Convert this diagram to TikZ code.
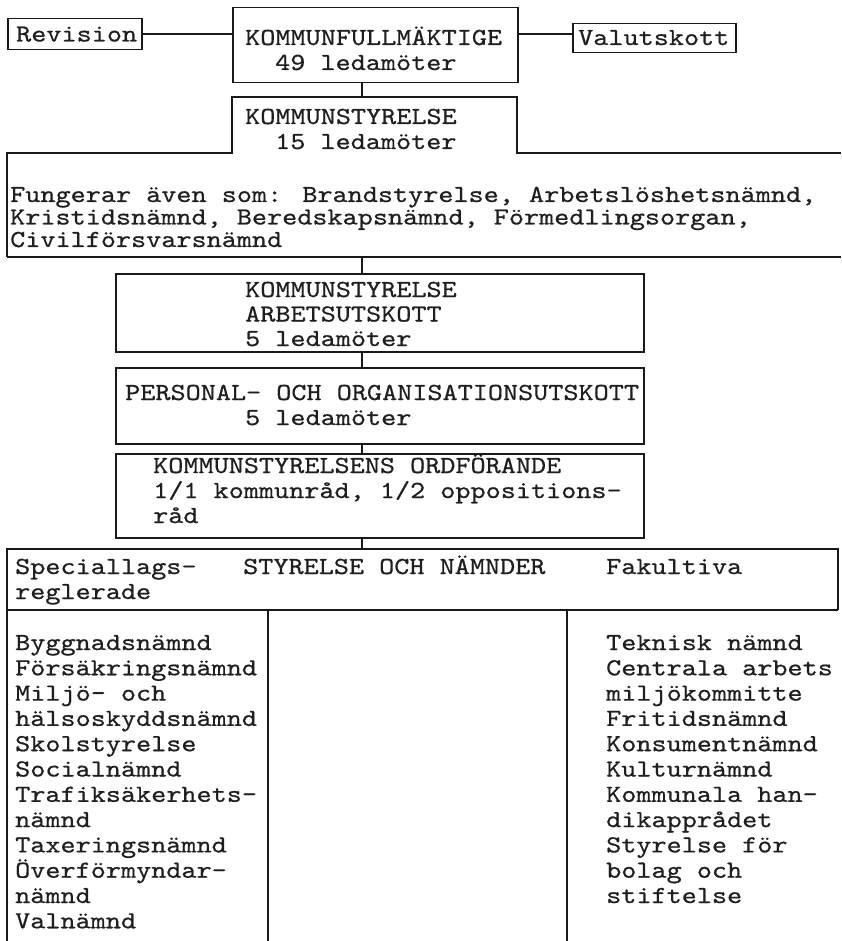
\documentclass[tikz,border=0pt]{standalone}
\usepackage{fontspec}
\usetikzlibrary{calc}
\newfontfamily\twface{lmmono10-regular.otf}[FakeStretch=1.175, FakeBold=0.6]
\newcommand\twfont{\twface\fontsize{24.5}{25.3}\selectfont}
\tikzset{
  frame/.style={draw=black!90, line width=1.5pt, inner sep=0pt, anchor=north west},
  wire/.style={draw=black!90, line width=1.5pt},
  txt/.style={anchor=base west, inner sep=0pt, font=\twfont, text=black!88},
}
\begin{document}
\begin{tikzpicture}[x=1pt,y=-1pt]
\useasboundingbox (0,0) rectangle (841,941);
\coordinate (spine) at (362,0);
% --- top row
\node[frame, minimum width=134pt, minimum height=31pt] (rev) at (7,18) {};
\node[frame, minimum width=285pt, minimum height=75pt] (kf) at (232,7) {};
\node[frame, minimum width=163pt, minimum height=29pt] (val) at (572,23) {};
\node[txt] (revt) at (16,41.5) {Revision};
\node[txt] (kf1) at (245,45) {KOMMUNFULLMÄKTIGE};
\node[txt] (kf2) at (275,70) {49 ledamöter};
\node[txt] (valt) at (578,45) {Valutskott};
\draw[wire] (rev.east) -- (rev.east -| kf.west);
\draw[wire] (kf.east |- rev.east) -- (val.west |- rev.east);
% --- kommunstyrelse + wide box
\coordinate (ksTop) at (362,97);
\coordinate (wideBot) at (362,257);
\draw[wire] (7,257) -- (7,153) -- (232,153) -- (232,97) -- (517,97) -- (517,153) -- (841,153);
\draw[wire] (7,257) -- (841,257);
\node[txt] (ks1) at (245,124) {KOMMUNSTYRELSE};
\node[txt] (ks2) at (275,149) {15 ledamöter};
\node[txt] (fu1) at (10,202) {Fungerar även som: Brandstyrelse, Arbetslöshetsnämnd,};
\node[txt] (fu2) at (10,224.5) {Kristidsnämnd, Beredskapsnämnd, Förmedlingsorgan,};
\node[txt] (fu3) at (10,247) {Civilförsvarsnämnd};
\draw[wire] (spine |- kf.south) -- (spine |- ksTop);
% --- middle boxes
\node[frame, minimum width=528pt, minimum height=78pt] (au) at (115,273) {};
\node[frame, minimum width=528pt, minimum height=76pt] (po) at (115,367) {};
\node[frame, minimum width=528pt, minimum height=84pt] (or) at (115,453) {};
\node[txt] (au1) at (245,297) {KOMMUNSTYRELSE};
\node[txt] (au2) at (245,321.5) {ARBETSUTSKOTT};
\node[txt] (au3) at (245,346) {5 ledamöter};
\node[txt] (po1) at (125,400) {PERSONAL- OCH ORGANISATIONSUTSKOTT};
\node[txt] (po2) at (245,425) {5 ledamöter};
\node[txt] (or1) at (153,473) {KOMMUNSTYRELSENS ORDFÖRANDE};
\node[txt] (or2) at (153,498) {1/1 kommunråd, 1/2 oppositions-};
\node[txt] (or3) at (153,523) {råd};
\draw[wire] (spine |- wideBot) -- (spine |- au.north);
\draw[wire] (spine |- au.south) -- (spine |- po.north);
\draw[wire] (spine |- po.south) -- (spine |- or.north);
% --- table
\coordinate (tabTop) at (362,549);
\draw[wire] (7,941) -- (7,549) -- (838,549) -- (838,610);
\draw[wire] (7,610) -- (838,610);
\draw[wire] (268,610) -- (268,941);
\draw[wire] (567,610) -- (567,941);
\draw[wire] (spine |- or.south) -- (spine |- tabTop);
\node[txt] (h1) at (15,574) {Speciallags-};
\node[txt] (h2) at (15,599) {reglerade};
\node[txt] (h3) at (243,574) {STYRELSE OCH NÄMNDER};
\node[txt] (h4) at (606,574) {Fakultiva};
\foreach \t [count=\i] in {Byggnadsnämnd, Försäkringsnämnd, Miljö- och, hälsoskyddsnämnd, Skolstyrelse, Socialnämnd, Trafiksäkerhets-, nämnd, Taxeringsnämnd, Överförmyndar-, nämnd, Valnämnd}
  \node[txt] (L\i) at (15,{650+25.3*(\i-1)}) {\t};
\foreach \t [count=\i] in {Teknisk nämnd, Centrala arbets, miljökommitte, Fritidsnämnd, Konsumentnämnd, Kulturnämnd, Kommunala han-, dikapprådet, Styrelse för, bolag och, stiftelse}
  \node[txt] (R\i) at (606,{650+25.3*(\i-1)}) {\t};
\end{tikzpicture}
\end{document}
